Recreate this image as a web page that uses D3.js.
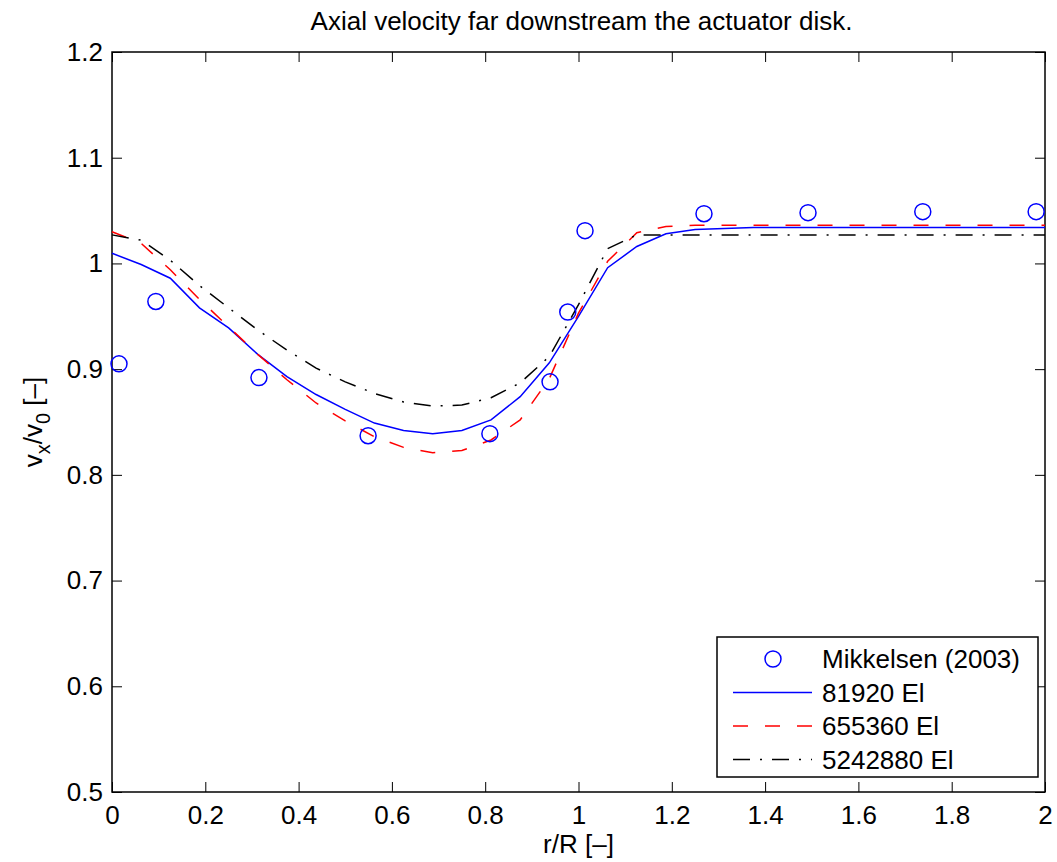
<!DOCTYPE html>
<html>
<head>
<meta charset="utf-8">
<script src="https://cdn.jsdelivr.net/npm/d3@7"></script>
<style>
body { margin: 0; background: #fff; }
.font { font-family: "Liberation Sans", Arial, Helvetica, sans-serif; }
</style>
</head>
<body>
<svg id="chart" width="1057" height="862"></svg>
<script>
const SVG_WIDTH = 1057;
const SVG_HEIGHT = 862;
const PLOT_LEFT = 112;
const PLOT_RIGHT = 1045;
const PLOT_TOP = 52;
const PLOT_BOTTOM = 792;
const TICK_LEN = 10;
const FONT_SIZE = 26;

const PLOT_TITLE_TXT = "Axial velocity far downstream the actuator disk.";
const X_AXIS_LABEL = "r/R [\u2013]";

const X_TICKS = [0, 0.2, 0.4, 0.6, 0.8, 1, 1.2, 1.4, 1.6, 1.8, 2];
const Y_TICKS = [0.5, 0.6, 0.7, 0.8, 0.9, 1, 1.1, 1.2];

// measured points, Mikkelsen (2003)
const mikkelsenR = [0.015, 0.094, 0.315, 0.549, 0.81, 0.939, 0.977, 1.014, 1.269, 1.492, 1.738, 1.981];
const mikkelsenV = [0.905, 0.964, 0.892, 0.837, 0.839, 0.888, 0.954, 1.031, 1.047, 1.048, 1.049, 1.049];

// computed profiles on r/R grid
const gridR = [0, 0.0625, 0.125, 0.1875, 0.25, 0.3125, 0.375, 0.4375, 0.5, 0.5625,
    0.625, 0.6875, 0.75, 0.8125, 0.875, 0.9375, 1.0, 1.0625, 1.125, 1.1875,
    1.25, 1.3125, 1.375, 1.5, 1.625, 1.75, 1.875, 2.0];
const v81920 = [1.0096, 0.999, 0.986, 0.958, 0.939, 0.914, 0.893, 0.876, 0.862, 0.849,
    0.842, 0.839, 0.842, 0.852, 0.874, 0.906, 0.950, 0.996, 1.016, 1.028,
    1.032, 1.033, 1.034, 1.034, 1.034, 1.034, 1.034, 1.034];
const v655360 = [1.030, 1.019, 0.994, 0.966, 0.940, 0.914, 0.890, 0.868, 0.851, 0.836,
    0.826, 0.821, 0.823, 0.833, 0.852, 0.891, 0.953, 1.002, 1.029, 1.035,
    1.036, 1.036, 1.036, 1.036, 1.036, 1.036, 1.036, 1.036];
const v5242880 = [1.027, 1.022, 1.003, 0.979, 0.958, 0.937, 0.918, 0.901, 0.888, 0.877,
    0.869, 0.865, 0.866, 0.873, 0.887, 0.912, 0.961, 1.014, 1.027, 1.027,
    1.027, 1.027, 1.027, 1.027, 1.027, 1.027, 1.027, 1.027];

const SERIES = [
    {name: "81920 El", values: v81920, color: "#0000ff", dash: null},
    {name: "655360 El", values: v655360, color: "#ff0000", dash: "15,17"},
    {name: "5242880 El", values: v5242880, color: "#000000", dash: "17,10,2,10"}
];

var svg = d3.select("#chart");

var xScale = d3.scaleLinear().domain([0, 2]).range([PLOT_LEFT, PLOT_RIGHT]);
var yScale = d3.scaleLinear().domain([0.5, 1.2]).range([PLOT_BOTTOM, PLOT_TOP]);

// axes with inward ticks on all four sides
var xAxis = d3.axisBottom(xScale).tickValues(X_TICKS).tickSize(-TICK_LEN).tickPadding(14)
    .tickFormat(d3.format("~g"));
var yAxis = d3.axisLeft(yScale).tickValues(Y_TICKS).tickSize(-TICK_LEN).tickPadding(9)
    .tickFormat(d3.format("~g"));
var xAxisTop = d3.axisTop(xScale).tickValues(X_TICKS).tickSize(-TICK_LEN).tickFormat("");
var yAxisRight = d3.axisRight(yScale).tickValues(Y_TICKS).tickSize(-TICK_LEN).tickFormat("");

function styleAxis(g) {
    g.select(".domain").remove();
    g.selectAll(".tick line").attr("stroke", "#000").attr("stroke-width", 1);
    g.selectAll(".tick text").attr("fill", "#000").attr("font-size", FONT_SIZE)
        .classed("font", true).attr("font-family", null);
}

svg.append("g").attr("transform", "translate(0," + PLOT_BOTTOM + ")").call(xAxis).call(styleAxis);
svg.append("g").attr("transform", "translate(" + PLOT_LEFT + ",0)").call(yAxis).call(styleAxis);
svg.append("g").attr("transform", "translate(0," + PLOT_TOP + ")").call(xAxisTop).call(styleAxis);
svg.append("g").attr("transform", "translate(" + PLOT_RIGHT + ",0)").call(yAxisRight).call(styleAxis);

svg.append("rect")
    .attr("x", PLOT_LEFT).attr("y", PLOT_TOP)
    .attr("width", PLOT_RIGHT - PLOT_LEFT).attr("height", PLOT_BOTTOM - PLOT_TOP)
    .attr("fill", "none").attr("stroke", "#000").attr("stroke-width", 1.5);

// lines
var line = d3.line()
    .x(function(d) { return xScale(d[0]); })
    .y(function(d) { return yScale(d[1]); });
var lineGroup = svg.append("g");
for (var i = 0; i < SERIES.length; i++) {
    var s = SERIES[i];
    var pts = gridR.map(function(r, j) { return [r, s.values[j]]; });
    lineGroup.append("path")
        .datum(pts)
        .attr("d", line)
        .attr("fill", "none")
        .attr("stroke", s.color)
        .attr("stroke-width", 1.5)
        .attr("stroke-dasharray", s.dash);
}

// measured points
svg.append("g").selectAll("circle")
    .data(mikkelsenR.map(function(r, j) { return [r, mikkelsenV[j]]; }))
    .enter()
    .append("circle")
    .attr("cx", function(d) { return xScale(d[0]); })
    .attr("cy", function(d) { return yScale(d[1]); })
    .attr("r", 8)
    .attr("fill", "none")
    .attr("stroke", "#0000ff")
    .attr("stroke-width", 1.5);

// title and labels
svg.append("text")
    .attr("x", (PLOT_LEFT + PLOT_RIGHT) / 2 + 3)
    .attr("y", 30)
    .attr("text-anchor", "middle")
    .attr("font-size", FONT_SIZE)
    .classed("font", true)
    .text(PLOT_TITLE_TXT);

svg.append("text")
    .attr("x", (PLOT_LEFT + PLOT_RIGHT) / 2)
    .attr("y", 853)
    .attr("text-anchor", "middle")
    .attr("font-size", FONT_SIZE)
    .classed("font", true)
    .text(X_AXIS_LABEL);

var yLabel = svg.append("text")
    .attr("transform", "translate(42," + (PLOT_TOP + PLOT_BOTTOM) / 2 + ") rotate(-90)")
    .attr("text-anchor", "middle")
    .attr("font-size", FONT_SIZE)
    .classed("font", true);
yLabel.append("tspan").text("v");
yLabel.append("tspan").attr("dy", 8).attr("font-size", 20).text("x");
yLabel.append("tspan").attr("dy", -8).text("/v");
yLabel.append("tspan").attr("dy", 8).attr("font-size", 20).text("0");
yLabel.append("tspan").attr("dy", -8).text(" [\u2013]");

// legend
var legend = svg.append("g");
legend.append("rect")
    .attr("x", 717).attr("y", 637)
    .attr("width", 321).attr("height", 140)
    .attr("fill", "#fff").attr("stroke", "#000").attr("stroke-width", 1.5);
var legendItems = [{name: "Mikkelsen (2003)", marker: true}].concat(SERIES);
legendItems.forEach(function(d, k) {
    var y = 659 + k * 33.5;
    if (d.marker) {
        legend.append("circle")
            .attr("cx", 773).attr("cy", y).attr("r", 8)
            .attr("fill", "none").attr("stroke", "#0000ff").attr("stroke-width", 1.5);
    } else {
        legend.append("line")
            .attr("x1", 733).attr("x2", 812).attr("y1", y).attr("y2", y)
            .attr("stroke", d.color).attr("stroke-width", 1.5)
            .attr("stroke-dasharray", d.dash);
    }
    legend.append("text")
        .attr("x", 822).attr("y", y)
        .attr("dominant-baseline", "central")
        .attr("font-size", FONT_SIZE)
        .classed("font", true)
        .text(d.name);
});
</script>
</body>
</html>
